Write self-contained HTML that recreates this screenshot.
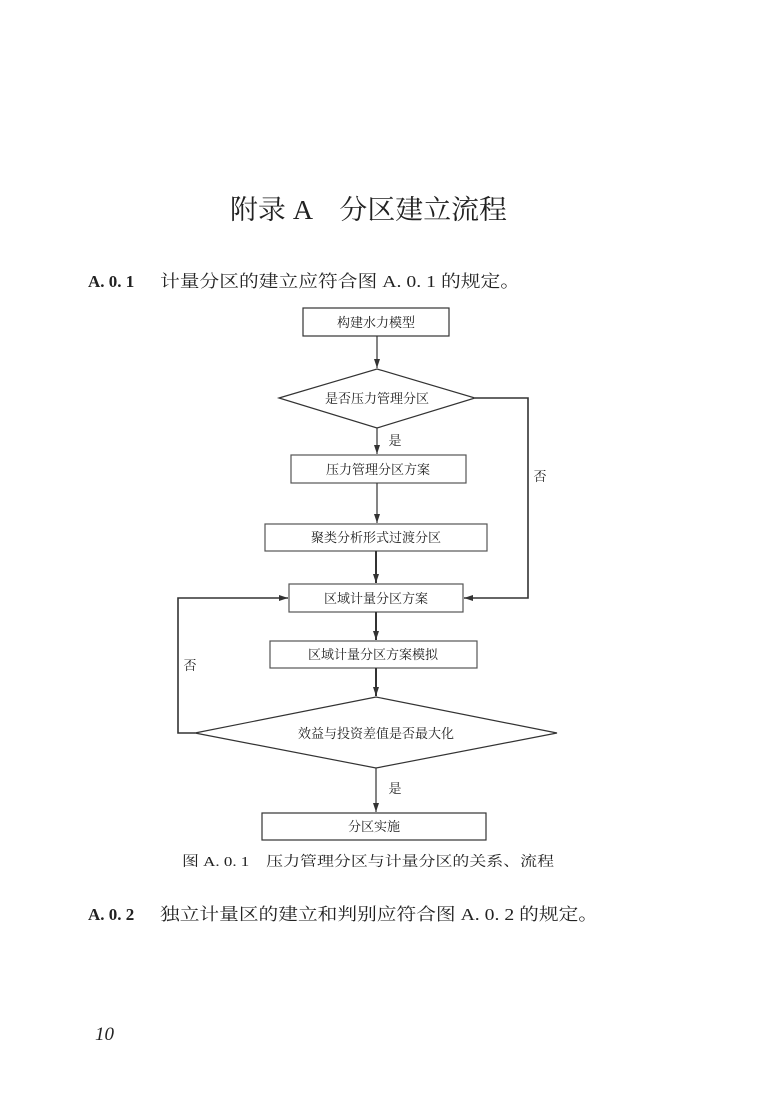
<!DOCTYPE html>
<html><head><meta charset="utf-8"><style>
html,body{margin:0;padding:0;background:#fff;}
svg{display:block;}
text{font-family:"Liberation Serif","Noto Serif CJK SC",serif;fill:#222;}
</style></head><body>
<svg width="762" height="1097" viewBox="0 0 762 1097" xmlns="http://www.w3.org/2000/svg">
<defs><marker id="a" markerWidth="10" markerHeight="8" refX="9" refY="4" orient="auto" markerUnits="userSpaceOnUse"><path d="M0,1 L9,4 L0,7 Z" fill="#333"/></marker></defs>
<text x="230" y="219" font-size="27" textLength="277" lengthAdjust="spacingAndGlyphs">附录 A　分区建立流程</text>
<text x="88" y="287" font-size="17" font-weight="bold">A. 0. 1</text>
<text x="160" y="287" font-size="17" textLength="360" lengthAdjust="spacingAndGlyphs">计量分区的建立应符合图 A. 0. 1 的规定。</text>
<g fill="none" stroke="#333" stroke-width="1.2">
<rect x="303" y="308" width="146" height="28"/>
<polygon points="279,398 377,369 475,398 377,428"/>
<rect x="291" y="455" width="175" height="28" stroke="#555"/>
<rect x="265" y="524" width="222" height="27" stroke="#555"/>
<rect x="289" y="584" width="174" height="28" stroke="#555"/>
<rect x="270" y="641" width="207" height="27" stroke="#555"/>
<polygon points="195,733 376,697 557,733 376,768"/>
<rect x="262" y="813" width="224" height="27"/>
<line x1="377" y1="336" x2="377" y2="368" marker-end="url(#a)"/>
<line x1="377" y1="428" x2="377" y2="454" marker-end="url(#a)"/>
<line x1="377" y1="483" x2="377" y2="523" marker-end="url(#a)"/>
<line x1="376" y1="551" x2="376" y2="583" stroke-width="2" marker-end="url(#a)"/>
<line x1="376" y1="612" x2="376" y2="640" stroke-width="2" marker-end="url(#a)"/>
<line x1="376" y1="668" x2="376" y2="696" stroke-width="2" marker-end="url(#a)"/>
<line x1="376" y1="768" x2="376" y2="812" marker-end="url(#a)"/>
<polyline points="475,398 528,398 528,598 464,598" stroke-width="1.6" marker-end="url(#a)"/>
<polyline points="195,733 178,733 178,598 288,598" stroke-width="1.6" marker-end="url(#a)"/>
</g>
<g font-size="13" text-anchor="middle">
<text x="376" y="327">构建水力模型</text>
<text x="377" y="403">是否压力管理分区</text>
<text x="378" y="474">压力管理分区方案</text>
<text x="376" y="542">聚类分析形式过渡分区</text>
<text x="376" y="603">区域计量分区方案</text>
<text x="373" y="659">区域计量分区方案模拟</text>
<text x="376" y="738">效益与投资差值是否最大化</text>
<text x="374" y="831">分区实施</text>
<text x="395" y="445">是</text>
<text x="540" y="481">否</text>
<text x="190" y="670">否</text>
<text x="395" y="793">是</text>
</g>
<text x="182" y="866" font-size="14" textLength="372" lengthAdjust="spacingAndGlyphs">图 A. 0. 1　压力管理分区与计量分区的关系、流程</text>
<text x="88" y="920" font-size="17" font-weight="bold">A. 0. 2</text>
<text x="160" y="920" font-size="17" textLength="438" lengthAdjust="spacingAndGlyphs">独立计量区的建立和判别应符合图 A. 0. 2 的规定。</text>
<text x="95" y="1040" font-size="19" font-style="italic">10</text>
</svg>
</body></html>
